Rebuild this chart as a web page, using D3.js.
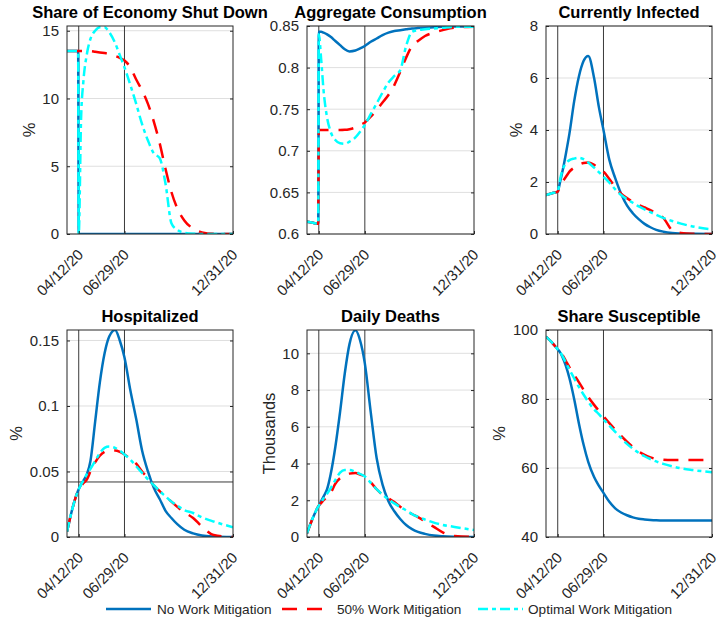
<!DOCTYPE html>
<html>
<head>
<meta charset="utf-8">
<script src="https://cdn.jsdelivr.net/npm/d3@7"></script>
<style>
  html, body { margin: 0; padding: 0; background: #fff; }
  svg { display: block; font-family: "Liberation Sans", Arial, Helvetica, sans-serif; }
</style>
</head>
<body>
<svg id="chart" width="720" height="617"></svg>
<script>
// Days relative to 04/12/20 (day 0); the simulation runs from 03/23/20 to 12/31/20.
const days = [-20, -10, -1, 0, 4, 8, 14, 20, 28, 36, 44, 52, 62, 70, 78, 88, 98, 108, 118, 128, 138, 148, 158, 168, 180, 195, 210, 230, 263];
const dateTicks = [0, 78, 263];
const dateLabels = ["04/12/20", "06/29/20", "12/31/20"];
const markerDays = [0, 78];

const seriesNames = ["No Work Mitigation", "50% Work Mitigation", "Optimal Work Mitigation"];

// Share of economy shut down (%)
const shutNone = [13.5, 13.5, 13.5, 0, 0, 0, 0, 0, 0, 0, 0, 0, 0, 0, 0, 0, 0, 0, 0, 0, 0, 0, 0, 0, 0, 0, 0, 0, 0];
const shutHalf = [13.5, 13.5, 13.5, 13.5, 13.5, 13.5, 13.5, 13.5, 13.45, 13.4, 13.35, 13.3, 13.15, 13.0, 12.8, 12.3, 11.4, 10.6, 9.6, 8.3, 6.7, 4.8, 3.1, 1.9, 1.0, 0.4, 0.12, 0.02, 0];
const shutOpt  = [13.5, 13.5, 13.5, 0, 8.5, 11.3, 13.3, 14.4, 15.0, 15.25, 15.25, 14.9, 14.1, 13.2, 12.3, 11.0, 9.6, 8.1, 6.9, 5.95, 5.6, 3.7, 0.8, 0.3, 0.1, 0.02, 0, 0, 0];

// Aggregate consumption
const consNone = [0.6148, 0.6135, 0.6122, 0.843, 0.843, 0.842, 0.840, 0.837, 0.832, 0.827, 0.822, 0.8195, 0.8205, 0.823, 0.826, 0.831, 0.835, 0.839, 0.842, 0.844, 0.845, 0.846, 0.847, 0.8475, 0.848, 0.8485, 0.849, 0.8495, 0.8495];
const consHalf = [0.6148, 0.6135, 0.6122, 0.725, 0.725, 0.725, 0.725, 0.725, 0.725, 0.725, 0.7252, 0.726, 0.728, 0.731, 0.734, 0.741, 0.749, 0.758, 0.767, 0.779, 0.795, 0.812, 0.826, 0.832, 0.838, 0.842, 0.845, 0.848, 0.849];
const consOpt  = [0.6148, 0.6135, 0.6122, 0.84, 0.81, 0.773, 0.74, 0.723, 0.713, 0.709, 0.7085, 0.711, 0.716, 0.723, 0.731, 0.744, 0.757, 0.77, 0.782, 0.79, 0.797, 0.826, 0.843, 0.845, 0.846, 0.847, 0.848, 0.849, 0.849];

// Currently infected (%)
const infNone = [1.5, 1.57, 1.62, 1.63, 2.0, 2.4, 3.1, 3.87, 5.1, 6.05, 6.65, 6.85, 6.0, 4.9, 4.0, 2.85, 2.15, 1.55, 1.1, 0.8, 0.57, 0.39, 0.26, 0.16, 0.09, 0.04, 0.02, 0.01, 0];
const infHalf = [1.5, 1.57, 1.62, 1.63, 1.85, 2.0, 2.2, 2.4, 2.55, 2.66, 2.73, 2.75, 2.66, 2.54, 2.4, 2.12, 1.8, 1.55, 1.38, 1.24, 1.12, 1.02, 0.92, 0.8, 0.62, 0.15, 0.04, 0.01, 0];
const infOpt  = [1.5, 1.57, 1.62, 1.63, 2.1, 2.45, 2.72, 2.84, 2.9, 2.93, 2.88, 2.75, 2.55, 2.38, 2.2, 1.98, 1.72, 1.5, 1.34, 1.2, 1.06, 0.95, 0.84, 0.74, 0.62, 0.5, 0.4, 0.29, 0.18];

// Hospitalized (%)
const hospNone = [0.004, 0.023, 0.0355, 0.0365, 0.04, 0.043, 0.048, 0.058, 0.088, 0.118, 0.14, 0.153, 0.158, 0.15, 0.137, 0.112, 0.09, 0.066, 0.05, 0.0375, 0.029, 0.02, 0.0145, 0.0098, 0.0055, 0.0028, 0.0012, 0.0004, 0];
const hospHalf = [0.004, 0.023, 0.0355, 0.0365, 0.039, 0.041, 0.044, 0.05, 0.057, 0.062, 0.065, 0.066, 0.066, 0.065, 0.063, 0.06, 0.056, 0.05, 0.045, 0.0395, 0.035, 0.031, 0.027, 0.023, 0.019, 0.0145, 0.008, 0.0015, 0];
const hospOpt  = [0.004, 0.023, 0.0355, 0.0365, 0.04, 0.043, 0.048, 0.052, 0.058, 0.064, 0.068, 0.069, 0.068, 0.066, 0.063, 0.059, 0.054, 0.049, 0.044, 0.0395, 0.035, 0.031, 0.027, 0.024, 0.0205, 0.0183, 0.015, 0.0118, 0.0075];
const hospCapacity = 0.042;

// Daily deaths (thousands)
const deathNone = [0.2, 1.05, 1.65, 1.7, 1.95, 2.2, 2.6, 3.4, 4.9, 6.8, 8.9, 10.5, 11.25, 10.7, 9.45, 6.8, 4.3, 2.85, 1.95, 1.4, 0.98, 0.65, 0.43, 0.28, 0.17, 0.08, 0.04, 0.015, 0];
const deathHalf = [0.2, 1.05, 1.65, 1.7, 1.85, 2.0, 2.2, 2.4, 2.9, 3.2, 3.35, 3.45, 3.48, 3.4, 3.3, 2.98, 2.6, 2.3, 2.1, 1.9, 1.65, 1.45, 1.25, 1.08, 0.85, 0.55, 0.25, 0.05, 0];
const deathOpt  = [0.2, 1.05, 1.65, 1.7, 1.9, 2.1, 2.35, 2.65, 3.1, 3.5, 3.65, 3.65, 3.55, 3.43, 3.3, 2.95, 2.6, 2.3, 2.05, 1.83, 1.63, 1.45, 1.25, 1.1, 0.95, 0.78, 0.66, 0.55, 0.38];

// Share susceptible (%)
const suscNone = [98.1, 96.4, 94.6, 94.4, 93.5, 92.2, 89.5, 86.0, 80.0, 73.0, 66.8, 61.8, 57.4, 54.9, 52.8, 50.2, 48.3, 47.1, 46.3, 45.7, 45.3, 45.1, 44.95, 44.85, 44.8, 44.8, 44.8, 44.8, 44.8];
const suscHalf = [98.1, 96.4, 94.6, 94.4, 93.8, 92.8, 91, 89.2, 87, 84.9, 82.7, 80.6, 78.3, 76.6, 75.0, 73.0, 71.1, 69.3, 67.6, 66.1, 64.8, 63.8, 63.1, 62.6, 62.4, 62.3, 62.3, 62.3, 62.3];
const suscOpt  = [98.1, 96.4, 94.6, 94.4, 93.6, 92.5, 90.5, 88.5, 86, 83.5, 81.3, 79.2, 77, 75.6, 74.1, 72.3, 70.5, 68.7, 67.0, 65.6, 64.4, 63.4, 62.6, 61.9, 61.2, 60.5, 59.9, 59.4, 58.8];

const panels = [
  { title: "Share of Economy Shut Down", ylabel: "%", yDomain: [0, 15.35], yTicks: [0, 5, 10, 15], series: [shutNone, shutHalf, shutOpt] },
  { title: "Aggregate Consumption", ylabel: "", yDomain: [0.6, 0.85], yTicks: [0.6, 0.65, 0.7, 0.75, 0.8, 0.85], series: [consNone, consHalf, consOpt] },
  { title: "Currently Infected", ylabel: "%", yDomain: [0, 8], yTicks: [0, 2, 4, 6, 8], series: [infNone, infHalf, infOpt] },
  { title: "Hospitalized", ylabel: "%", yDomain: [0, 0.158], yTicks: [0, 0.05, 0.1, 0.15], series: [hospNone, hospHalf, hospOpt], hline: hospCapacity },
  { title: "Daily Deaths", ylabel: "Thousands", yDomain: [0, 11.27], yTicks: [0, 2, 4, 6, 8, 10], series: [deathNone, deathHalf, deathOpt] },
  { title: "Share Susceptible", ylabel: "%", yDomain: [40, 100], yTicks: [40, 60, 80, 100], series: [suscNone, suscHalf, suscOpt] }
];

// Layout of the 2x3 grid of axes (pixel boxes)
const colBox = [[67, 233], [307, 474], [546, 712]];
const rowBox = [[26, 234], [330, 537]];
const lineStyles = [
  { color: "#0072BD", dash: null },
  { color: "#FF0000", dash: "15,10" },
  { color: "#00FFFF", dash: "10,4,4,4" }
];
const axisColor = "#262626";
const tickFont = 15, labelFont = 16.5;

const svg = d3.select("#chart");
const fmt = d => String(+d.toFixed(3));

panels.forEach((p, i) => {
  const [x0, x1] = colBox[i % 3];
  const [y0, y1] = rowBox[Math.floor(i / 3)];
  const x = d3.scaleLinear().domain([days[0], days[days.length - 1]]).range([x0, x1]);
  const y = d3.scaleLinear().domain(p.yDomain).range([y1, y0]);
  const g = svg.append("g");

  const clipId = "clip" + i;
  svg.append("clipPath").attr("id", clipId)
    .append("rect").attr("x", x0).attr("y", y0).attr("width", x1 - x0).attr("height", y1 - y0);

  // horizontal grid
  g.append("g").selectAll("line").data(p.yTicks).join("line")
    .attr("x1", x0).attr("x2", x1)
    .attr("y1", d => y(d)).attr("y2", d => y(d))
    .attr("stroke", "#dfdfdf").attr("stroke-width", 1);

  // date markers
  g.append("g").selectAll("line").data(markerDays).join("line")
    .attr("x1", d => x(d)).attr("x2", d => x(d))
    .attr("y1", y0).attr("y2", y1)
    .attr("stroke", "#3a3a3a").attr("stroke-width", 1);

  if (p.hline !== undefined) {
    g.append("line")
      .attr("x1", x0).attr("x2", x1)
      .attr("y1", y(p.hline)).attr("y2", y(p.hline))
      .attr("stroke", "#3a3a3a").attr("stroke-width", 1);
  }

  const line = d3.line()
    .x((d, k) => x(days[k]))
    .y(d => y(d))
    .curve(d3.curveMonotoneX);

  const lg = g.append("g").attr("clip-path", `url(#${clipId})`);
  p.series.forEach((s, k) => {
    lg.append("path")
      .attr("d", line(s))
      .attr("fill", "none")
      .attr("stroke", lineStyles[k].color)
      .attr("stroke-width", 2.5)
      .attr("stroke-dasharray", lineStyles[k].dash)
      .attr("stroke-linejoin", "round");
  });

  // left axis with tick labels (ticks pointing inward)
  const ax = g.append("g").attr("transform", `translate(${x0},0)`)
    .call(d3.axisLeft(y).tickValues(p.yTicks).tickSize(-3).tickPadding(8).tickFormat(fmt));
  ax.select(".domain").remove();
  ax.selectAll("line").attr("stroke", axisColor);
  ax.selectAll("text").attr("font-size", tickFont).attr("fill", axisColor);
  ax.attr("font-family", null);

  // right side ticks
  const axr = g.append("g").attr("transform", `translate(${x1},0)`)
    .call(d3.axisRight(y).tickValues(p.yTicks).tickSize(-3).tickFormat(""));
  axr.select(".domain").remove();
  axr.selectAll("line").attr("stroke", axisColor);

  // bottom axis, rotated date labels
  const bx = g.append("g").attr("transform", `translate(0,${y1})`)
    .call(d3.axisBottom(x).tickValues(dateTicks).tickSize(-3).tickFormat((d, k) => dateLabels[k]));
  bx.attr("font-family", null);
  bx.select(".domain").remove();
  bx.selectAll("line").attr("stroke", axisColor);
  bx.selectAll("text")
    .attr("font-size", tickFont).attr("fill", axisColor)
    .attr("x", null).attr("y", null).attr("dy", null)
    .attr("text-anchor", "end")
    .attr("transform", "translate(5,21.5) rotate(-45)");

  // axes box
  g.append("rect")
    .attr("x", x0).attr("y", y0).attr("width", x1 - x0).attr("height", y1 - y0)
    .attr("fill", "none").attr("stroke", axisColor).attr("stroke-width", 1);

  // title
  g.append("text")
    .attr("x", (x0 + x1) / 2).attr("y", y0 - 8.5)
    .attr("text-anchor", "middle")
    .attr("font-size", labelFont).attr("font-weight", "bold").attr("fill", "#000")
    .text(p.title);

  // y label, placed clear of the widest tick label
  if (p.ylabel) {
    let maxW = 0;
    ax.selectAll("text").each(function () { maxW = Math.max(maxW, this.getComputedTextLength()); });
    const lx = x0 - 8 - maxW - 7.5;
    g.append("text")
      .attr("transform", `translate(${lx},${(y0 + y1) / 2}) rotate(-90)`)
      .attr("text-anchor", "middle")
      .attr("font-size", labelFont).attr("fill", axisColor)
      .text(p.ylabel);
  }
});

// legend along the bottom
const legendY = 609;
const legendPos = [{ x: 106, tx: 157 }, { x: 282, tx: 337 }, { x: 478, tx: 528 }];
const lgd = svg.append("g");
seriesNames.forEach((name, k) => {
  lgd.append("line")
    .attr("x1", legendPos[k].x).attr("x2", legendPos[k].x + 45)
    .attr("y1", legendY).attr("y2", legendY)
    .attr("stroke", lineStyles[k].color).attr("stroke-width", 2.5)
    .attr("stroke-dasharray", lineStyles[k].dash);
  lgd.append("text")
    .attr("x", legendPos[k].tx).attr("y", legendY).attr("dy", "0.35em")
    .attr("font-size", 13.6).attr("fill", axisColor)
    .text(name);
});
</script>
</body>
</html>
